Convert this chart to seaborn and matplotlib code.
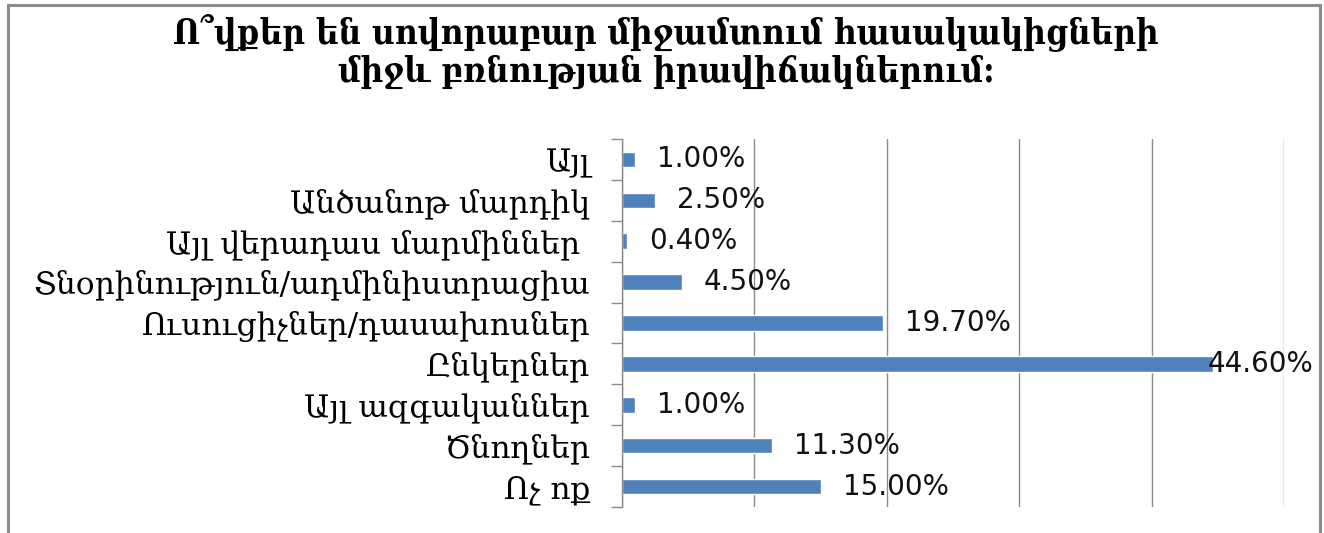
import numpy as np
import pandas as pd
import matplotlib
matplotlib.use('Agg')
import matplotlib.pyplot as plt
import seaborn as sns
from matplotlib.patches import Rectangle

# data (top to bottom, as in the chart)
categories = [
    'Այլ',
    'Անծանոթ մարդիկ',
    'Այլ վերադաս մարմիններ ',
    'Տնօրինություն/ադմինիստրացիա',
    'Ուսուցիչներ/դասախոսներ',
    'Ընկերներ',
    'Այլ ազգականներ',
    'Ծնողներ',
    'Ոչ ոք',
]
percent = [1.0, 2.5, 0.4, 4.5, 19.7, 44.6, 1.0, 11.3, 15.0]
title_lines = ['Ո՞վքեր են սովորաբար միջամտում հասակակիցների',
               'միջև բռնության իրավիճակներում:']
x_max = 50
grid_step = 10

bar_color = '#4F81BD'
grid_color = '#8C8C8C'

df = pd.DataFrame({'category': categories, 'percent': percent})

sns.set_theme(style='white')
plt.rcParams['font.family'] = ['DejaVu Serif', 'DejaVu Sans']

W, H = 1324, 533
fig = plt.figure(figsize=(W / 100, H / 100), dpi=100)
ax = fig.add_axes([622 / W, 1 - 507 / H, (1284 - 622) / W, (507 - 139) / H])

sns.barplot(data=df, x='percent', y='category', orient='h', color=bar_color,
            width=0.38, saturation=1, ax=ax)

ax.set_xlim(0, x_max)
ax.set_ylim(len(categories) - 0.5, -0.5)
ax.set_xticks(np.arange(0, x_max + 1, grid_step))
ax.set_xticklabels([])
ax.tick_params(axis='x', length=0)
ax.xaxis.grid(True, color=grid_color, linewidth=1)
ax.yaxis.grid(False)
ax.set_axisbelow(True)
ax.set_xlabel('')
ax.set_ylabel('')

# category ticks between bars, labels on the bars
ax.set_yticks(np.arange(len(categories)))
ax.set_yticklabels(categories, fontsize=22.5, color='black')
ax.set_yticks(np.arange(len(categories) + 1) - 0.5, minor=True)
ax.tick_params(axis='y', which='major', length=0, pad=23)
ax.tick_params(axis='y', which='minor', length=8, width=1, color=grid_color, left=True)

for s in ['top', 'right', 'bottom']:
    ax.spines[s].set_visible(False)
ax.spines['left'].set_color(grid_color)
ax.spines['left'].set_linewidth(1)

# value labels
top = max(percent)
for i, v in enumerate(percent):
    txt = f'{v:.2f}%'
    if v == top:
        ax.annotate(txt, xy=(1, i), xycoords=('axes fraction', 'data'),
                    xytext=(21, 0), textcoords='offset points', ha='right',
                    va='center', fontsize=20, family='DejaVu Sans', color='#111111')
    else:
        ax.annotate(txt, xy=(v, i), xytext=(16, 0), textcoords='offset points',
                    ha='left', va='center', fontsize=20, family='DejaVu Sans',
                    color='#111111')

# title
fig.text(0.503, 1 - 32 / H, title_lines[0], ha='center', va='center',
         fontsize=25, fontweight='bold', fontstretch='condensed', color='black')
fig.text(0.503, 1 - 72 / H, title_lines[1], ha='center', va='center',
         fontsize=25, fontweight='bold', fontstretch='condensed', color='black')

# chart frame
fig.patches.append(Rectangle((8 / W, -0.1), (1320 - 8) / W, 1.1 - 5 / H,
                             transform=fig.transFigure, fill=False,
                             edgecolor='#8C8C8C', linewidth=2.2))

fig.savefig('out.png', dpi=100)
